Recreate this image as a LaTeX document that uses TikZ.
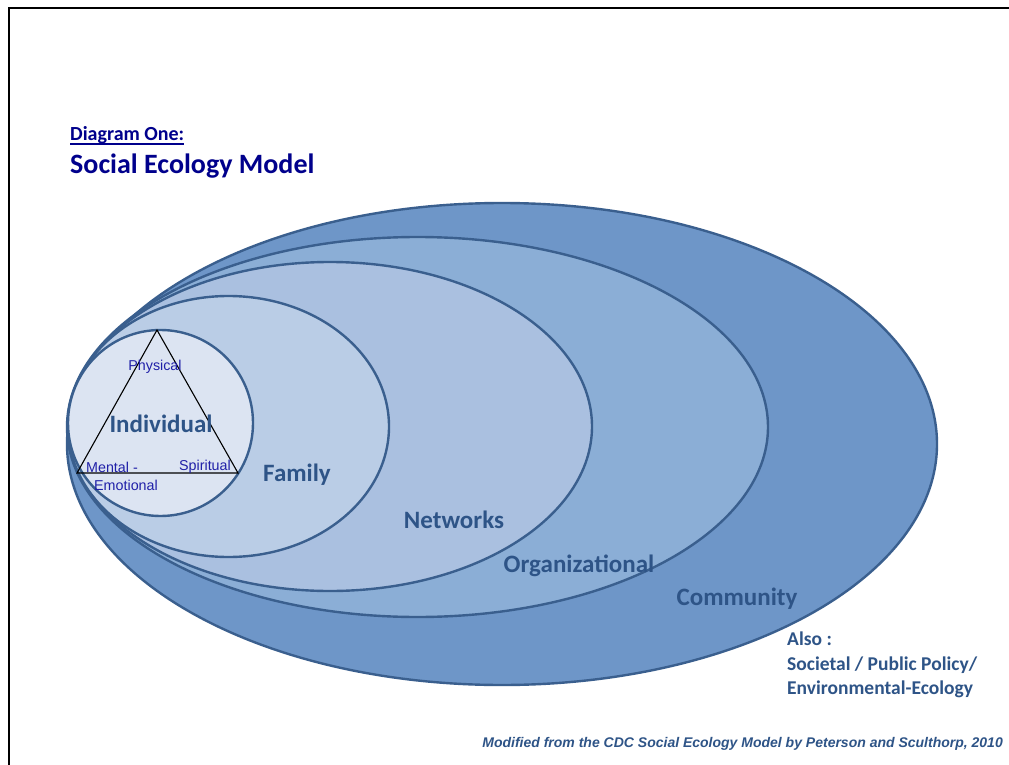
\documentclass[tikz,border=0pt]{standalone}
\usepackage{fontspec}
\setmainfont{Carlito}
\newfontfamily\arialfont{Liberation Sans}
\usetikzlibrary{shapes.geometric}
\definecolor{ringline}{HTML}{3A5F8E}
\definecolor{commfill}{HTML}{6E96C8}
\definecolor{orgfill}{HTML}{8BAED6}
\definecolor{netfill}{HTML}{AAC0E0}
\definecolor{famfill}{HTML}{BACDE6}
\definecolor{indfill}{HTML}{DCE4F2}
\definecolor{labelblue}{HTML}{2E5487}
\definecolor{titlenavy}{HTML}{00008C}
\definecolor{smallblue}{HTML}{2020A8}
\tikzset{
  ring/.style={ellipse, draw=ringline, line width=2.4pt, inner sep=0pt},
  ringlabel/.style={font=\fontsize{25}{28}\selectfont\bfseries, text=labelblue, inner sep=0pt},
  aspect/.style={font=\arialfont\fontsize{14.3}{16}\selectfont, text=smallblue, inner sep=0pt},
}
\begin{document}
\begin{tikzpicture}[x=1pt, y=-1pt]
\useasboundingbox (0,0) rectangle (1009,765);
\fill[white] (0,0) rectangle (1009,765);
% frame
\draw[line width=2.6pt] (9,766) -- (9,8) -- (1010,8);
% title
\node[anchor=base west, inner sep=0pt, text=titlenavy, font=\fontsize{20}{22}\selectfont\bfseries] (t1) at (70,140) {Diagram One:};
\draw[titlenavy, line width=1.8pt] (70,144) -- (184,144);
\node[anchor=base west, inner sep=0pt, text=titlenavy, font=\fontsize{28}{30}\selectfont\bfseries] (t2) at (70,173) {Social Ecology Model};
% nested rings
\node[ring, fill=commfill, minimum width=870pt, minimum height=482pt] (comm) at (502,444) {};
\node[ring, fill=orgfill, minimum width=701pt, minimum height=380pt] (org) at (417.5,427) {};
\node[ring, fill=netfill, minimum width=524pt, minimum height=329pt] (net) at (330,426.5) {};
\node[ring, fill=famfill, minimum width=321pt, minimum height=261pt] (fam) at (228.5,426.5) {};
\node[ring, fill=indfill, minimum width=185pt, minimum height=186pt] (ind) at (160.5,423) {};
% aspects triangle
\coordinate (top) at (157,330);
\coordinate (bl) at (77,473);
\coordinate (br) at (238,473);
\draw[line width=1.1pt] (top) -- (bl) -- (br) -- cycle;
\node[aspect] (phys) at (155,367) {Physical};
\node[aspect] (ment) at (112,467) {Mental -};
\node[aspect] (emot) at (126,485) {Emotional};
\node[aspect] (spir) at (205,467) {Spiritual};
% ring labels
\node[ringlabel] (lind) at (161,424) {Individual};
\node[ringlabel] (lfam) at (297,475) {Family};
\node[ringlabel] (lnet) at (454,520) {Networks};
\node[ringlabel] (lorg) at (579,566) {Organizational};
\node[ringlabel] (lcom) at (737,599) {Community};
% further levels
\node[anchor=north west, inner sep=0pt, align=left, text=labelblue, font=\fontsize{19.5}{24.5}\selectfont\bfseries] (also) at (787,632) {Also :\\Societal / Public Policy/\\Environmental-Ecology};
% source
\node[anchor=base east, inner sep=0pt, text=labelblue, font=\arialfont\fontsize{14}{16}\selectfont\bfseries\itshape] (src) at (1003,747) {Modified from the CDC Social Ecology Model by Peterson and Sculthorp, 2010};
\end{tikzpicture}
\end{document}
